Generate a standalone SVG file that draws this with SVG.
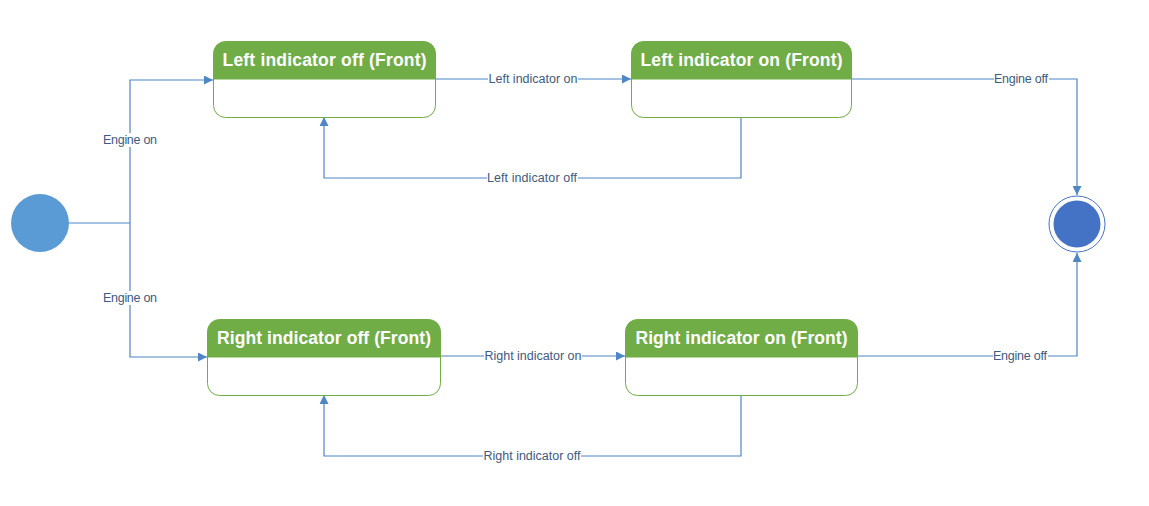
<svg xmlns="http://www.w3.org/2000/svg" width="1149" height="506" viewBox="0 0 1149 506">
<style>
.node rect.body{fill:#fff;stroke:#70AD47;stroke-width:1}
.node path.hdr{fill:#70AD47}
.title{font-family:"Liberation Sans",Arial,sans-serif;font-weight:bold;font-size:17.5px;fill:#fff;text-anchor:middle}
.edge{fill:none;stroke:#4F86C6;stroke-width:1.2}
.lbl{font-family:"Liberation Sans",Arial,sans-serif;font-size:12.5px;fill:#3E5A80;text-anchor:middle;dominant-baseline:central}
.lblbg{fill:#fff}
</style>
<defs>
<marker id="arr" viewBox="0 0 10 10" refX="10" refY="5" markerWidth="10" markerHeight="9" markerUnits="userSpaceOnUse" orient="auto">
<path d="M0,0 L10,5 L0,10 Z" fill="#4F86C6"/>
</marker>
</defs>
<rect width="1149" height="506" fill="#fff"/>
<g id="connectors">
<path class="edge" d="M69,223 H130"/>
<path class="edge" d="M130,223 V80 H213" marker-end="url(#arr)"/>
<path class="edge" d="M130,223 V357 H207" marker-end="url(#arr)"/>
<path class="edge" d="M436,79 H631" marker-end="url(#arr)"/>
<path class="edge" d="M741,117 V178 H324 V117" marker-end="url(#arr)"/>
<path class="edge" d="M851,79 H1077 V195" marker-end="url(#arr)"/>
<path class="edge" d="M441,356 H625" marker-end="url(#arr)"/>
<path class="edge" d="M741,395 V456 H324 V395" marker-end="url(#arr)"/>
<path class="edge" d="M857,356 H1077 V253" marker-end="url(#arr)"/>
<rect class="lblbg" x="103" y="133" width="54" height="14"/>
<text class="lbl" x="130" y="140" textLength="54">Engine on</text>
<rect class="lblbg" x="103" y="291" width="54" height="14"/>
<text class="lbl" x="130" y="298" textLength="54">Engine on</text>
<rect class="lblbg" x="488" y="72" width="90" height="14"/>
<text class="lbl" x="533" y="79" textLength="89">Left indicator on</text>
<rect class="lblbg" x="487" y="171" width="91" height="14"/>
<text class="lbl" x="532" y="178" textLength="90">Left indicator off</text>
<rect class="lblbg" x="994" y="72" width="55" height="14"/>
<text class="lbl" x="1021" y="79" textLength="54">Engine off</text>
<rect class="lblbg" x="484" y="349" width="98" height="14"/>
<text class="lbl" x="533" y="356" textLength="97">Right indicator on</text>
<rect class="lblbg" x="483" y="449" width="98" height="14"/>
<text class="lbl" x="532" y="456" textLength="97">Right indicator off</text>
<rect class="lblbg" x="993" y="349" width="55" height="14"/>
<text class="lbl" x="1020" y="356" textLength="54">Engine off</text>
</g>
<g id="initial"><circle cx="40" cy="223" r="29" fill="#5B9BD5"/></g>
<g id="final">
<circle cx="1077" cy="224" r="28" fill="#fff" stroke="#4472C4" stroke-width="1"/>
<circle cx="1077" cy="224" r="23.5" fill="#4472C4"/>
</g>
<g id="left-off" class="node">
<rect class="body" x="213.5" y="41.5" width="222" height="76" rx="12"/>
<path class="hdr" d="M213.5,79.5 V53.5 A12,12 0 0 1 225.5,41.5 H423.5 A12,12 0 0 1 435.5,53.5 V79.5 Z"/>
<text class="title" x="324.5" y="66" textLength="204">Left indicator off (Front)</text>
</g>
<g id="left-on" class="node">
<rect class="body" x="631.5" y="41.5" width="220" height="76" rx="12"/>
<path class="hdr" d="M631.5,79.5 V53.5 A12,12 0 0 1 643.5,41.5 H839.5 A12,12 0 0 1 851.5,53.5 V79.5 Z"/>
<text class="title" x="741.5" y="66" textLength="202">Left indicator on (Front)</text>
</g>
<g id="right-off" class="node">
<rect class="body" x="207.5" y="319.5" width="233" height="76" rx="12"/>
<path class="hdr" d="M207.5,357.5 V331.5 A12,12 0 0 1 219.5,319.5 H428.5 A12,12 0 0 1 440.5,331.5 V357.5 Z"/>
<text class="title" x="324" y="344" textLength="214">Right indicator off (Front)</text>
</g>
<g id="right-on" class="node">
<rect class="body" x="625.5" y="319.5" width="232" height="76" rx="12"/>
<path class="hdr" d="M625.5,357.5 V331.5 A12,12 0 0 1 637.5,319.5 H845.5 A12,12 0 0 1 857.5,331.5 V357.5 Z"/>
<text class="title" x="741.5" y="344" textLength="212">Right indicator on (Front)</text>
</g>
</svg>
